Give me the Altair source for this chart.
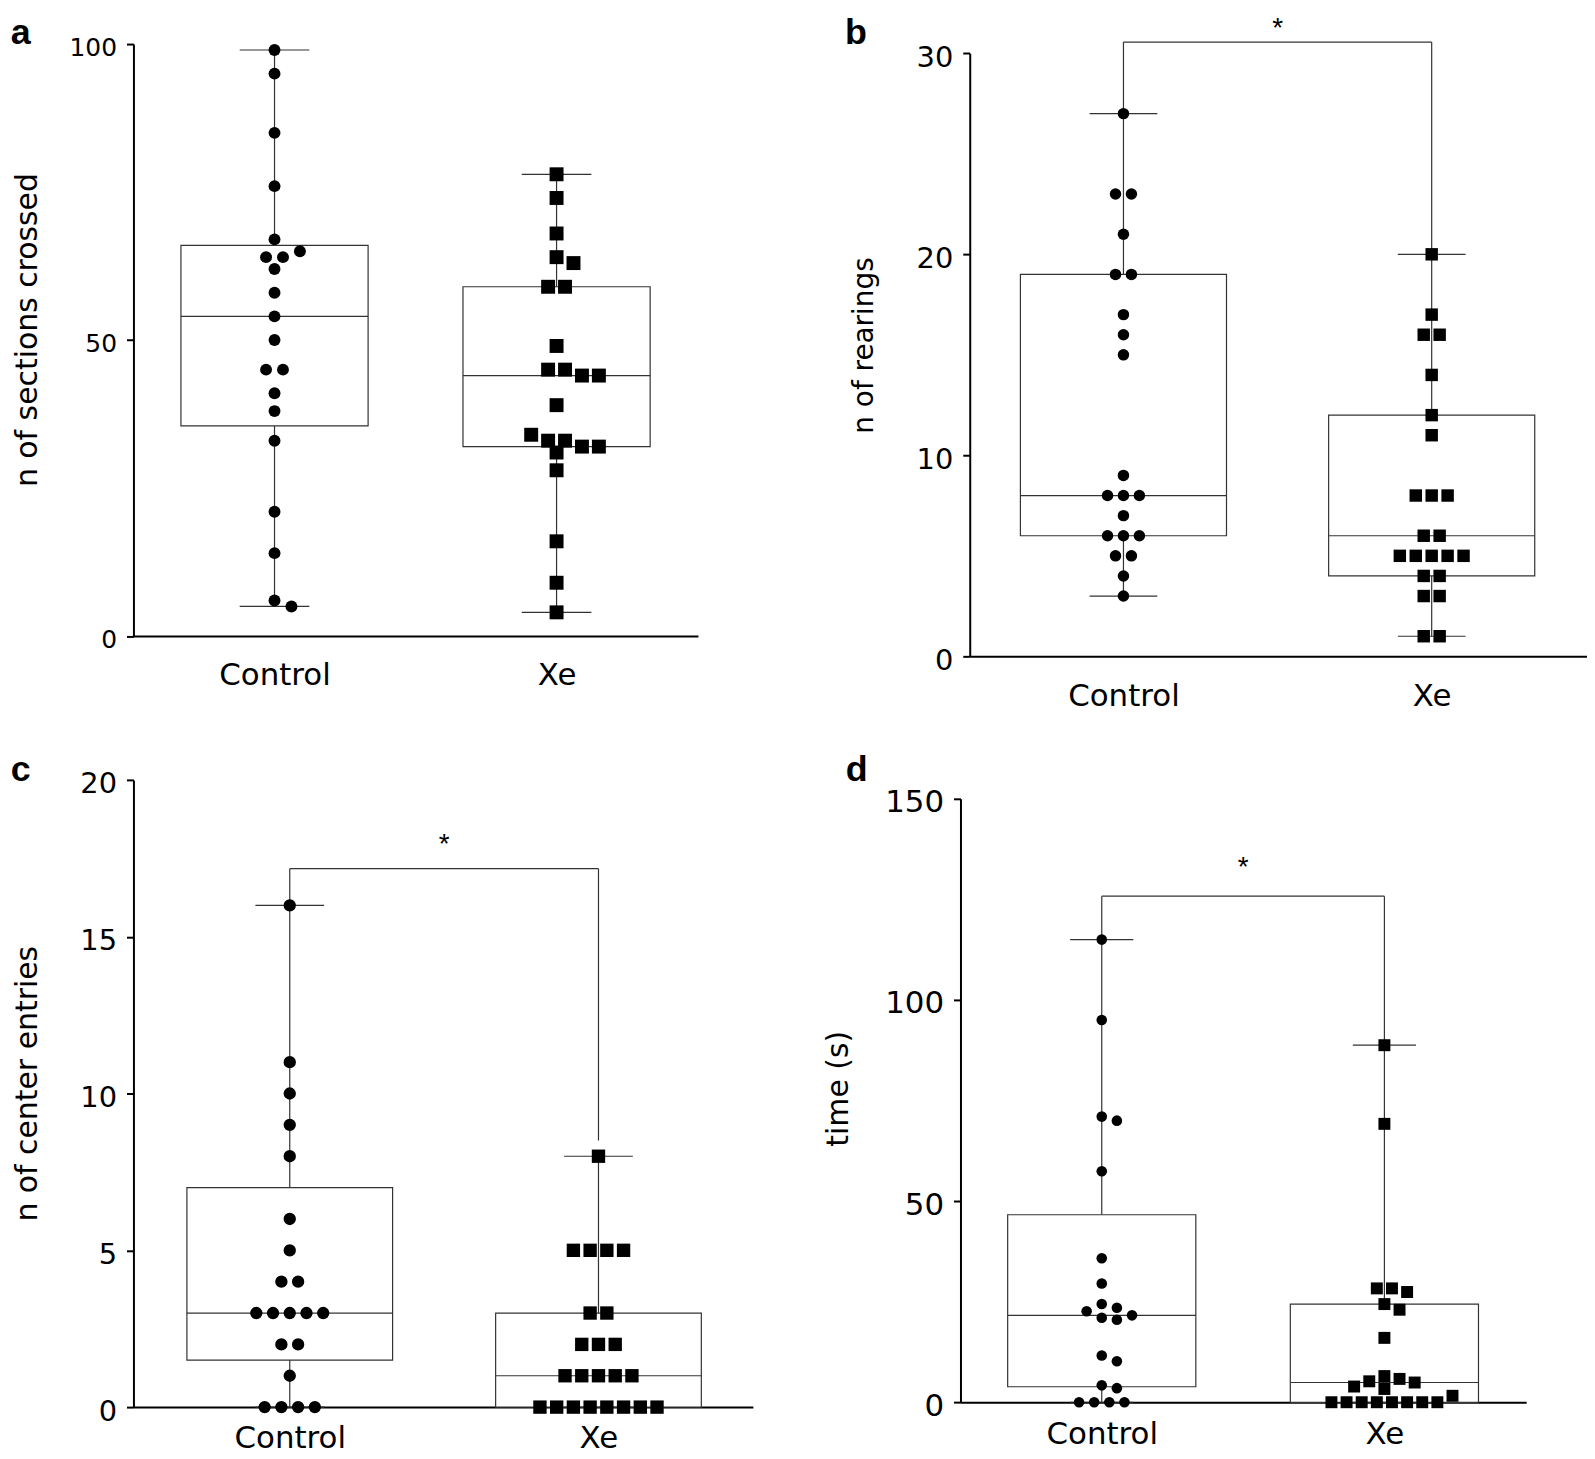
import altair as alt
import numpy as np
import pandas as pd

FONT = "DejaVu Sans"
FONT_B = "Liberation Sans"

groups = ["Control", "Xe"]

# ---- values ----
a_control = [99, 95, 85, 76, 67, 65, 64, 64, 62, 58, 54, 50, 45, 45, 41, 38, 33, 21, 14, 6, 5]
a_xe = [78, 74, 68, 64, 63, 59, 59, 49, 45, 45, 44, 44, 39, 34, 33, 33, 32, 32, 31, 28, 16, 9, 4]
b_control = [27, 23, 23, 21, 19, 19, 17, 16, 15, 9, 8, 8, 8, 7, 6, 6, 6, 5, 5, 4, 3]
b_xe = [20, 17, 16, 16, 14, 12, 11, 8, 8, 8, 6, 6, 5, 5, 5, 5, 5, 4, 4, 3, 3, 1, 1]
c_control = [16, 11, 10, 9, 8, 6, 5, 4, 4, 3, 3, 3, 3, 3, 2, 2, 1, 0, 0, 0, 0]
c_xe = [8, 5, 5, 5, 5, 3, 3, 2, 2, 2, 1, 1, 1, 1, 1, 0, 0, 0, 0, 0, 0, 0, 0]
d_control = [115, 95, 71, 70, 57.4, 35.8, 29.5, 24.4, 23.5, 22.6, 21.6, 21.0, 20.5,
             11.6, 10.2, 4.2, 3.5, 0, 0, 0, 0]
d_xe = [88.75, 69.2, 28.3, 28.3, 27.4, 24.4, 23.0, 16.0, 6.5, 5.8, 5.2, 4.9, 3.9, 3.3,
        1.6, 0, 0, 0, 0, 0, 0, 0, 0]

y_titles = ["n of sections crossed", "n of rearings", "n of center entries", "time (s)"]
panel_letters = ["a", "b", "c", "d"]
y_max = [100, 30, 20, 150]
y_ticks = [[0, 50, 100], [0, 10, 20, 30], [0, 5, 10, 15, 20], [0, 50, 100, 150]]
# significance bracket: [bracket level, control leg end, Xe leg end, star baseline]
brackets = [None, [30.56, 27, 20, 30.79], [17.17, 16, 8.5, 17.67], [125.8, 115, 88.75, 130.7]]
sig_label = "*"

# ---- layout (pixels) ----
LAYOUT = [
    dict(W=567, H=594.6, top=0, c1=141.7, c2=425.0, box=94, cap=35, circ=143, sq=196,
         step=17, thr=13.5, tx=-97.3, ty=286.8, tfs=30, lfs=25, lx=-123.3, ly=0.3,
         xpad=25, xfs=31),
    dict(W=620, H=615, top=9.3, c1=154.4, c2=464.0, box=103.5, cap=34, circ=133, sq=156,
         step=16, thr=13, tx=-97.3, ty=302.3, tfs=28, lfs=29, lx=-125.3, ly=0.3,
         xpad=25, xfs=31),
    dict(W=622.2, H=630, top=0, c1=157.0, c2=467.1, box=103.3, cap=34.5, circ=154, sq=180,
         step=16.8, thr=14, tx=-97.3, ty=304.7, tfs=30, lfs=29, lx=-123.3, ly=1.5,
         xpad=17, xfs=31),
    dict(W=568.2, H=625.1, top=19, c1=141.9, c2=425.8, box=94.5, cap=31.7, circ=113, sq=144,
         step=15.2, thr=12, tx=-113.8, ty=309.7, tfs=30, lfs=31, lx=-115.2, ly=1.5,
         xpad=17, xfs=31),
]

LINE = "#333333"


def swarm(vals, ppu, step, thr):
    vals = np.asarray(vals, float)
    out = np.zeros(len(vals))
    placed = []
    half = step / 2.0
    cands = [0.0]
    for k in range(1, 40):
        cands += [k * half, -k * half]
    distinct = sorted(set(vals.tolist()), key=lambda v: (-(vals == v).sum(), -v))
    for v in distinct:
        idx = np.where(vals == v)[0]
        k = len(idx)
        base = (np.arange(k) - (k - 1) / 2.0) * step
        y = v * ppu
        chosen = base
        for c in cands:
            xs = base + c
            ok = True
            for (px, py) in placed:
                if np.any(np.hypot(xs - px, y - py) < thr):
                    ok = False
                    break
            if ok:
                chosen = xs
                break
        for i, x in zip(idx, chosen):
            out[i] = x
            placed.append((x, y))
    return out


def build_panel(i, ctrl, xe):
    L = LAYOUT[i]
    W, H, top = L["W"], L["H"], L["top"]
    unit = L["c2"] - L["c1"]
    x0 = 1 - L["c1"] / unit
    x1 = x0 + W / unit
    xs = alt.Scale(domain=[x0, x1], nice=False, zero=False)
    ys = alt.Scale(domain=[0, y_max[i]], range=[H, top], nice=False, zero=False)
    ppu = (H - top) / y_max[i]

    pts, summ, caps = [], [], []
    for gi, (g, vals) in enumerate(zip(groups, [ctrl, xe]), start=1):
        offs = swarm(vals, ppu, L["step"], L["thr"])
        for v, o in zip(vals, offs):
            pts.append({"group": g, "value": v, "gx": gi + o / unit})
        q1, med, q3 = np.percentile(vals, [25, 50, 75], method="weibull")
        lo, hi = min(vals), max(vals)
        summ.append({"group": g, "gx": gi, "bl": gi - L["box"] / unit, "br": gi + L["box"] / unit,
                     "q1": q1, "med": med, "q3": q3, "lo": lo, "hi": hi})
        for v in (lo, hi):
            caps.append({"cl": gi - L["cap"] / unit, "cr": gi + L["cap"] / unit, "v": v})
    pts = pd.DataFrame(pts)
    summ = pd.DataFrame(summ)
    caps = pd.DataFrame(caps)

    label_expr = f"datum.value == 1 ? '{groups[0]}' : '{groups[1]}'"
    xaxis = alt.Axis(values=[1, 2], labelExpr=label_expr, ticks=False, tickSize=0, title=None,
                     labelFontSize=L["xfs"], labelPadding=L["xpad"], domainWidth=2,
                     domainColor="black", labelFont=FONT, labelColor="black", grid=False,
                     labelFlush=False)
    yaxis = alt.Axis(values=y_ticks[i], title=y_titles[i], titleX=L["tx"], titleY=L["ty"],
                     titleAngle=270, titleAlign="center", titleBaseline="alphabetic",
                     titleFontSize=L["tfs"], titleFontWeight="normal", titleFont=FONT,
                     titleColor="black", labelFontSize=L["lfs"], labelPadding=10, labelOffset=4,
                     labelFont=FONT, labelColor="black", tickSize=7, tickWidth=2,
                     tickColor="black", domainWidth=2, domainColor="black", grid=False,
                     format="d")

    def X(f):
        return alt.X(f, scale=xs, axis=xaxis)

    def Y(f):
        return alt.Y(f, scale=ys, axis=yaxis)

    whisk = alt.Chart(summ).mark_rule(color=LINE, strokeWidth=1.2).encode(
        x=X("gx:Q"), y=Y("lo:Q"), y2="hi:Q")
    box = alt.Chart(summ).mark_rect(fill="white", stroke=LINE, strokeWidth=1.2).encode(
        x=X("bl:Q"), x2="br:Q", y=Y("q1:Q"), y2="q3:Q")
    med = alt.Chart(summ).mark_rule(color=LINE, strokeWidth=1.2).encode(
        x=X("bl:Q"), x2="br:Q", y=Y("med:Q"))
    cap = alt.Chart(caps).mark_rule(color=LINE, strokeWidth=1.2).encode(
        x=X("cl:Q"), x2="cr:Q", y=Y("v:Q"))
    circles = alt.Chart(pts[pts["group"] == groups[0]]).mark_point(
        shape="circle", filled=True, size=L["circ"], color="black", opacity=1
    ).encode(x=X("gx:Q"), y=Y("value:Q"))
    squares = alt.Chart(pts[pts["group"] == groups[1]]).mark_point(
        shape="square", filled=True, size=L["sq"], color="black", opacity=1
    ).encode(x=X("gx:Q"), y=Y("value:Q"))

    layers = [whisk, box, med, cap]

    br = brackets[i]
    if br is not None:
        level, lc, lx_, star_y = br
        hb = pd.DataFrame([{"a": 1, "b": 2, "y": level}])
        legs = pd.DataFrame([{"x": 1, "y1": level, "y2": lc}, {"x": 2, "y1": level, "y2": lx_}])
        star = pd.DataFrame([{"x": 1.5, "y": star_y, "t": sig_label}])
        layers.append(alt.Chart(hb).mark_rule(color=LINE, strokeWidth=1.2).encode(
            x=X("a:Q"), x2="b:Q", y=Y("y:Q")))
        layers.append(alt.Chart(legs).mark_rule(color=LINE, strokeWidth=1.2).encode(
            x=X("x:Q"), y=Y("y1:Q"), y2="y2:Q"))
        layers.append(alt.Chart(star).mark_text(font=FONT_B, fontSize=28, align="center",
                                                baseline="alphabetic", color="black").encode(
            x=X("x:Q"), y=Y("y:Q"), text="t:N"))

    layers += [circles, squares]

    letter = pd.DataFrame([{"t": panel_letters[i]}])
    layers.append(alt.Chart(letter).mark_text(font=FONT_B, fontSize=36, fontWeight="bold",
                                              align="left", baseline="alphabetic",
                                              color="black").encode(
        x=alt.value(L["lx"]), y=alt.value(L["ly"]), text="t:N"))

    if i == 0:
        anchor = pd.DataFrame([{"t": 0}])
        layers.append(alt.Chart(anchor).mark_rule(opacity=0, strokeWidth=0.01).encode(
            x=alt.value(-125.3), x2=alt.value(-125.3), y=alt.value(-32.7), y2=alt.value(-30)))

    return alt.layer(*layers).properties(width=W, height=H)


pa = build_panel(0, a_control, a_xe)
pb = build_panel(1, b_control, b_xe)
pc = build_panel(2, c_control, c_xe)
pd_ = build_panel(3, d_control, d_xe)

row1 = alt.hconcat(pa, pb, spacing=273, bounds="flush")
row2 = alt.hconcat(pc, pd_, spacing=207.7, bounds="flush")
chart = alt.vconcat(row1, row2, spacing=41.1, bounds="full").properties(
    padding=0, background="white"
).configure_view(stroke=None).configure_axis(grid=False)

chart.save("out.html", embed_options={"renderer": "svg", "actions": False})
